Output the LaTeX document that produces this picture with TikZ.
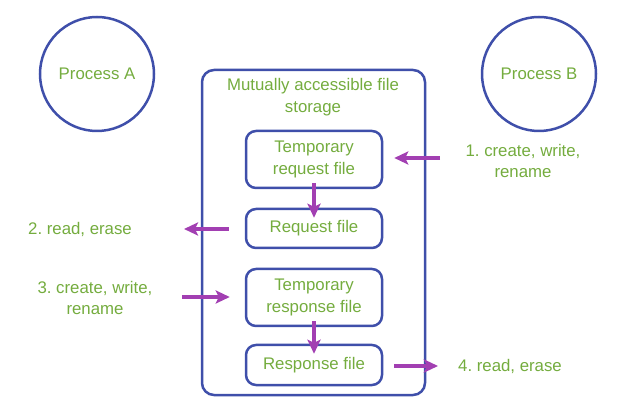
\documentclass[tikz,border=0pt]{standalone}
\usepackage{fontspec}
\setmainfont{Liberation Sans}
\frenchspacing
\usetikzlibrary{arrows.meta}
\definecolor{boxblue}{HTML}{3F4FAA}
\definecolor{txtgreen}{HTML}{74AC3E}
\definecolor{arrpurple}{HTML}{A23FB2}
\begin{document}
\begin{tikzpicture}[x=1pt,y=1pt,
    every node/.style={font=\fontsize{16.8}{21.5}\selectfont, text=txtgreen, align=center},
    proc/.style={draw=boxblue, line width=2.5pt, circle, minimum size=114pt},
    filebox/.style={draw=boxblue, line width=2.5pt, rounded corners=10pt, minimum width=136pt},
    flow/.style={draw=arrpurple, line width=4.5pt, -{Stealth[length=14pt,width=13pt,inset=3pt]}}]
    \useasboundingbox (0,0) rectangle (620,401);

    \node[proc](procA)at(97,327){Process A};
    \node[proc](procB)at(539,327){Process B};

    % shared storage
    \node[draw=boxblue, line width=2.5pt, rounded corners=12pt, minimum width=223pt, minimum height=325pt](store)at(313.5,168.5){};
    \node(title)at(313,304){Mutually accessible file\\storage};

    \node[filebox, minimum height=57pt](treq)at(314,241.5){Temporary\\request file};
    \node[filebox, minimum height=39pt](req)at(314,172.5){Request file};
    \node[filebox, minimum height=57pt](tresp)at(314,103.5){Temporary\\response file};
    \node[filebox, minimum height=40pt](resp)at(314,36){Response file};

    \node(l1)at(523,240){1. create, write,\\rename};
    \node(l2)at(80,172){2. read, erase};
    \node(l3)at(95,103){3. create, write,\\rename};
    \node(l4)at(510,35){4. read, erase};

    \coordinate(a1)at(440,243);
    \coordinate(a2)at(184,172);
    \coordinate(a3)at(182,104);
    \coordinate(a4)at(438,35);

    \draw[flow] (a1) -- ([xshift=11pt]treq.east |- a1);
    \draw[flow,shorten <=-6pt,shorten >=-10pt] (treq.south) -- (req.north);
    \draw[flow] ([xshift=-16pt]req.west |- a2) -- (a2);
    \draw[flow] (a3) -- ([xshift=-15pt]tresp.west |- a3);
    \draw[flow,shorten <=-6pt,shorten >=-10pt] (tresp.south) -- (resp.north);
    \draw[flow] ([xshift=11pt]resp.east |- a4) -- (a4);
  \end{tikzpicture}
\end{document}
